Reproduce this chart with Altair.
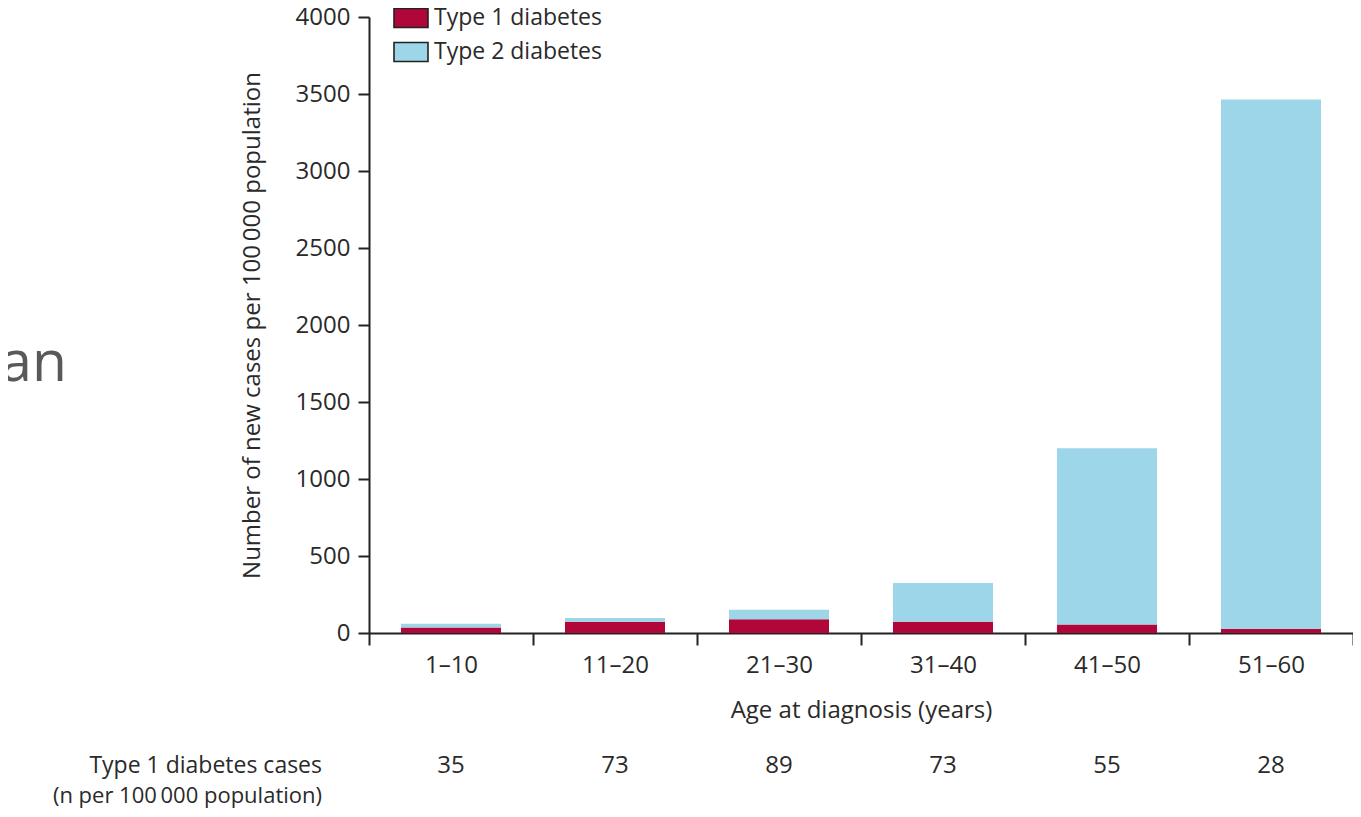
import altair as alt
import pandas as pd

# ---- data ----
ages = ["1–10", "11–20", "21–30", "31–40", "41–50", "51–60"]
type1 = [35, 73, 89, 73, 55, 28]
type2 = [25, 24, 62, 252, 1145, 3437]
series = ["Type 1 diabetes", "Type 2 diabetes"]
colors = ["#B1063A", "#9DD6E9"]
y_ticks = [0, 500, 1000, 1500, 2000, 2500, 3000, 3500, 4000]
row_label_1 = "Type 1 diabetes cases"
row_label_2 = "(n per 100\u2009000 population)"
side_text = "an"

FONT = "Open Sans"
TXT = "#2a2a2a"

rows = []
for a, v1, v2 in zip(ages, type1, type2):
    rows.append({"age": a, "series": series[0], "value": v1, "ord": 0})
    rows.append({"age": a, "series": series[1], "value": v2, "ord": 1})
df = pd.DataFrame(rows)
df_t1 = pd.DataFrame({"age": ages, "t1": type1})

x_enc = alt.X(
    "age:N",
    sort=ages,
    scale=alt.Scale(paddingInner=0, paddingOuter=0),
    axis=alt.Axis(
        title="Age at diagnosis (years)",
        labelAngle=0,
        tickBand="extent",
        tickSize=12,
        labelPadding=8,
        titlePadding=21,
        labelFontSize=24,
        titleFontSize=24,
    ),
)

bars = alt.Chart(df).mark_bar(width=alt.RelativeBandSize(0.61)).encode(
    x=x_enc,
    y=alt.Y(
        "value:Q",
        stack="zero",
        scale=alt.Scale(domain=[0, 4000], nice=False),
        axis=alt.Axis(
            title="Number of new cases per 100\u2009000 population",
            values=y_ticks,
            format="d",
            tickSize=11,
            labelPadding=8,
            titlePadding=31,
            labelFontSize=24,
            titleFontSize=24,
        ),
    ),
    color=alt.Color(
        "series:N",
        scale=alt.Scale(domain=series, range=colors),
        legend=alt.Legend(
            title=None,
            orient="none",
            legendX=24,
            legendY=-17,
            padding=0,
            rowPadding=3,
            symbolType="M-1,-0.56H1V0.56H-1Z",
            symbolSize=1156,
            symbolStrokeColor="#222222",
            symbolStrokeWidth=1.6,
            symbolOpacity=1,
            labelFontSize=23,
            labelFont=FONT,
            labelColor=TXT,
            labelOffset=5,
            labelLimit=0,
        ),
    ),
    order=alt.Order("ord:Q", sort="ascending"),
)

counts = alt.Chart(df_t1).mark_text(
    font=FONT, fontSize=24, color=TXT, baseline="middle"
).encode(
    x=alt.X("age:N", sort=ages),
    y=alt.value(749),
    text=alt.Text("t1:Q"),
)

lab1 = alt.Chart(pd.DataFrame({"t": [row_label_1]})).mark_text(
    font=FONT, fontSize=23, color=TXT, align="right", baseline="middle"
).encode(x=alt.value(-47), y=alt.value(749), text="t:N")

lab2 = alt.Chart(pd.DataFrame({"t": [row_label_2]})).mark_text(
    font=FONT, fontSize=22, color=TXT, align="right", baseline="middle"
).encode(x=alt.value(-47), y=alt.value(779), text="t:N")

side = alt.Chart(pd.DataFrame({"t": [side_text]})).mark_text(
    font=FONT, fontSize=57, color="#595959",
    align="right", baseline="alphabetic"
).encode(x=alt.value(-302), y=alt.value(364), text="t:N")

chart = (
    alt.layer(bars, counts, lab1, lab2, side)
    .properties(
        width=984,
        height=616,
        autosize=alt.AutoSizeParams(type="none"),
        padding={"left": 361, "top": 9, "right": 0, "bottom": 176},
    )
    .configure_view(stroke=None)
    .configure_axis(
        grid=False,
        domainColor="#222222",
        domainWidth=2,
        tickColor="#222222",
        tickWidth=2,
        labelFont=FONT,
        labelColor=TXT,
        titleFont=FONT,
        titleFontWeight="normal",
        titleColor=TXT,
    )
)

chart.save("out.html", embed_options={"renderer": "svg", "actions": False})
